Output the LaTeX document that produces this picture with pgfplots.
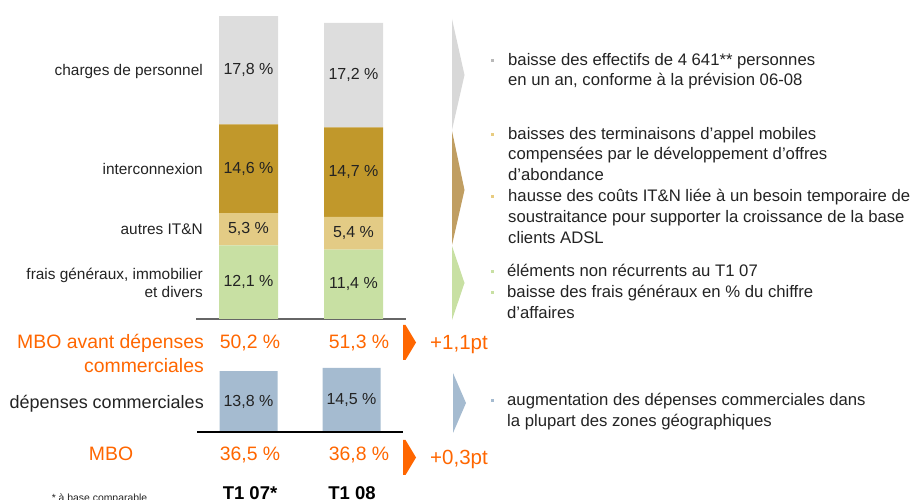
\documentclass[border=0pt]{standalone}
\usepackage{pgfplots}
\usepackage{pgfplotstable}
\pgfplotsset{compat=1.18}
\usepackage{fontspec}
\setmainfont{Liberation Sans}
\definecolor{cgrey}{RGB}{221,221,221}
\definecolor{cgold}{RGB}{193,152,43}
\definecolor{clgold}{RGB}{227,203,133}
\definecolor{cgreen}{RGB}{200,224,163}
\definecolor{cblue}{RGB}{165,187,208}
\definecolor{corange}{RGB}{255,102,0}
\definecolor{ctxt}{RGB}{35,35,35}
\definecolor{chgrey}{RGB}{216,216,216}
\definecolor{chgold}{RGB}{192,158,98}
\definecolor{bgrey}{RGB}{185,185,185}
\definecolor{bgold}{RGB}{232,204,128}
\newcommand\fs[1]{\fontsize{#1bp}{#1bp}\selectfont}

\pgfplotstableread{
pos personnel interco autres frais commerciales
0 17.8 14.6 5.3 12.1 13.8
1 17.2 14.7 5.4 11.4 14.5
}\costs

\begin{document}
\begin{tikzpicture}[every node/.style={inner sep=0pt}]
\useasboundingbox (0,0) rectangle (915bp,500bp);

% ---------- top stacked bars ----------
\begin{axis}[at={(196bp,181bp)}, anchor=south west, scale only axis,
  width=210bp, height=304bp, xmin=-0.5, xmax=1.5, ymin=0, ymax=50,
  axis lines=none, clip=false, ybar stacked, bar width=59bp,
  /pgf/number format/assume math mode=true,
  point meta=explicit,
  nodes near coords={\pgfmathprintnumber[fixed,precision=1,fixed zerofill,use comma,assume math mode=true]{\pgfplotspointmeta}~\%},
  every node near coord/.append style={anchor=center, font=\fs{16}, text=ctxt},
]
\addplot[fill=cgreen, draw=none] table[x=pos, y=frais, meta=frais]{\costs};
\addplot[fill=clgold, draw=none] table[x=pos, y=autres, meta=autres]{\costs};
\addplot[fill=cgold, draw=none] table[x=pos, y=interco, meta=interco]{\costs};
\addplot[fill=cgrey, draw=none] table[x=pos, y=personnel, meta=personnel]{\costs};
\draw[line width=1.2bp, color=black!60] (rel axis cs:0,0) -- (rel axis cs:1,0);
\end{axis}

% ---------- bottom bars ----------
\begin{axis}[at={(197bp,68bp)}, anchor=south west, scale only axis,
  width=206bp, height=88.4bp, xmin=-0.5, xmax=1.5, ymin=0, ymax=20,
  axis lines=none, clip=false, ybar, bar width=58bp,
  /pgf/number format/assume math mode=true,
  point meta=explicit,
  nodes near coords={\pgfmathprintnumber[fixed,precision=1,fixed zerofill,use comma,assume math mode=true]{\pgfplotspointmeta}~\%},
  visualization depends on={rawy \as \segval},
  every node near coord/.append style={anchor=center, yshift={-2.21bp*\segval}, font=\fs{16}, text=ctxt},
]
\addplot[fill=cblue, draw=none] table[x=pos, y=commerciales, meta=commerciales]{\costs};
\draw[line width=1.2bp, color=black] (rel axis cs:0,0) -- (rel axis cs:1,0);
\end{axis}

% ---------- chevrons ----------
\fill[chgrey] (452bp,481bp) -- (464.5bp,425bp) -- (452bp,370bp) -- cycle;
\fill[chgold] (452bp,369bp) -- (464.5bp,310bp) -- (452bp,255bp) -- cycle;
\fill[cgreen] (452bp,254bp) -- (464.5bp,217bp) -- (452bp,180bp) -- cycle;
\fill[cblue] (453bp,127bp) -- (466bp,97bp) -- (453bp,67bp) -- cycle;
\fill[corange] (403bp,175bp) -- (405.5bp,175bp) -- (416bp,157.5bp) -- (405.5bp,140bp) -- (403bp,140bp) -- cycle;
\fill[corange] (403bp,60bp) -- (405.5bp,60bp) -- (416bp,42.5bp) -- (405.5bp,25bp) -- (403bp,25bp) -- cycle;

% ---------- left labels ----------
\begin{scope}[every node/.append style={anchor=base east, font=\fs{15.4}, text=ctxt}]
\node at (203bp,424bp) {charges de personnel};
\node at (203bp,325bp) {interconnexion};
\node at (203bp,265bp) {autres IT\&N};
\node at (203bp,220bp) {frais généraux, immobilier};
\node at (203bp,202bp) {et divers};
\end{scope}
\node[anchor=base east, font=\fs{18}, text=ctxt] at (204bp,91bp) {dépenses commerciales};

% ---------- orange texts ----------
\begin{scope}[every node/.append style={font=\fs{19.4}, text=corange}]
\node[anchor=base east] at (204bp,151bp) {MBO avant dépenses};
\node[anchor=base east] at (204bp,127bp) {commerciales};
\node[anchor=base] at (111bp,39.3bp) {MBO};
\node[anchor=base] at (250bp,151.7bp) {50,2 \%};
\node[anchor=base] at (359bp,151.7bp) {51,3 \%};
\node[anchor=base] at (250bp,39.3bp) {36,5 \%};
\node[anchor=base] at (359bp,39.3bp) {36,8 \%};
\node[anchor=base west, font=\fs{20.5}] at (430bp,150.7bp) {+1,1pt};
\node[anchor=base west, font=\fs{20.5}] at (430bp,35.7bp) {+0,3pt};
\end{scope}

% ---------- period labels ----------
\node[anchor=base, font=\fs{18.5}\bfseries] at (250bp,0.8bp) {T1 07*};
\node[anchor=base, font=\fs{18.5}\bfseries] at (352bp,0.8bp) {T1 08};
\node[anchor=base, font=\fs{10.4}, text=ctxt] at (99.5bp,-1.8bp) {* à base comparable};

% ---------- right comments ----------
\begin{scope}[every node/.append style={anchor=base west, font=\fs{16.7}, text=ctxt}]
\node at (508bp,434.3bp) {baisse des effectifs de 4 641** personnes};
\node at (508bp,414bp) {en un an, conforme à la prévision 06-08};
\node at (508bp,360.7bp) {baisses des terminaisons d’appel mobiles};
\node at (508bp,340bp) {compensées par le développement d’offres};
\node at (508bp,319bp) {d'abondance};
\node at (508bp,298.3bp) {hausse des coûts IT\&N liée à un besoin temporaire de};
\node at (508bp,277.3bp) {soustraitance pour supporter la croissance de la base};
\node at (508bp,256.7bp) {clients ADSL};
\node at (507bp,223.3bp) {éléments non récurrents au T1 07};
\node at (507bp,202.3bp) {baisse des frais généraux en \% du chiffre};
\node at (507bp,181.7bp) {d’affaires};
\node at (507bp,94.3bp) {augmentation des dépenses commerciales dans};
\node at (507bp,73.3bp) {la plupart des zones géographiques};
\end{scope}
% bullets
\fill[bgrey] (491.3bp,438bp) rectangle +(2.6bp,2.6bp);
\fill[bgold] (491.3bp,364.4bp) rectangle +(2.6bp,2.6bp);
\fill[bgold] (491.3bp,302bp) rectangle +(2.6bp,2.6bp);
\fill[cgreen] (491.3bp,227bp) rectangle +(2.6bp,2.6bp);
\fill[cgreen] (491.3bp,206bp) rectangle +(2.6bp,2.6bp);
\fill[cblue] (491.3bp,98bp) rectangle +(2.6bp,2.6bp);
\end{tikzpicture}
\end{document}
